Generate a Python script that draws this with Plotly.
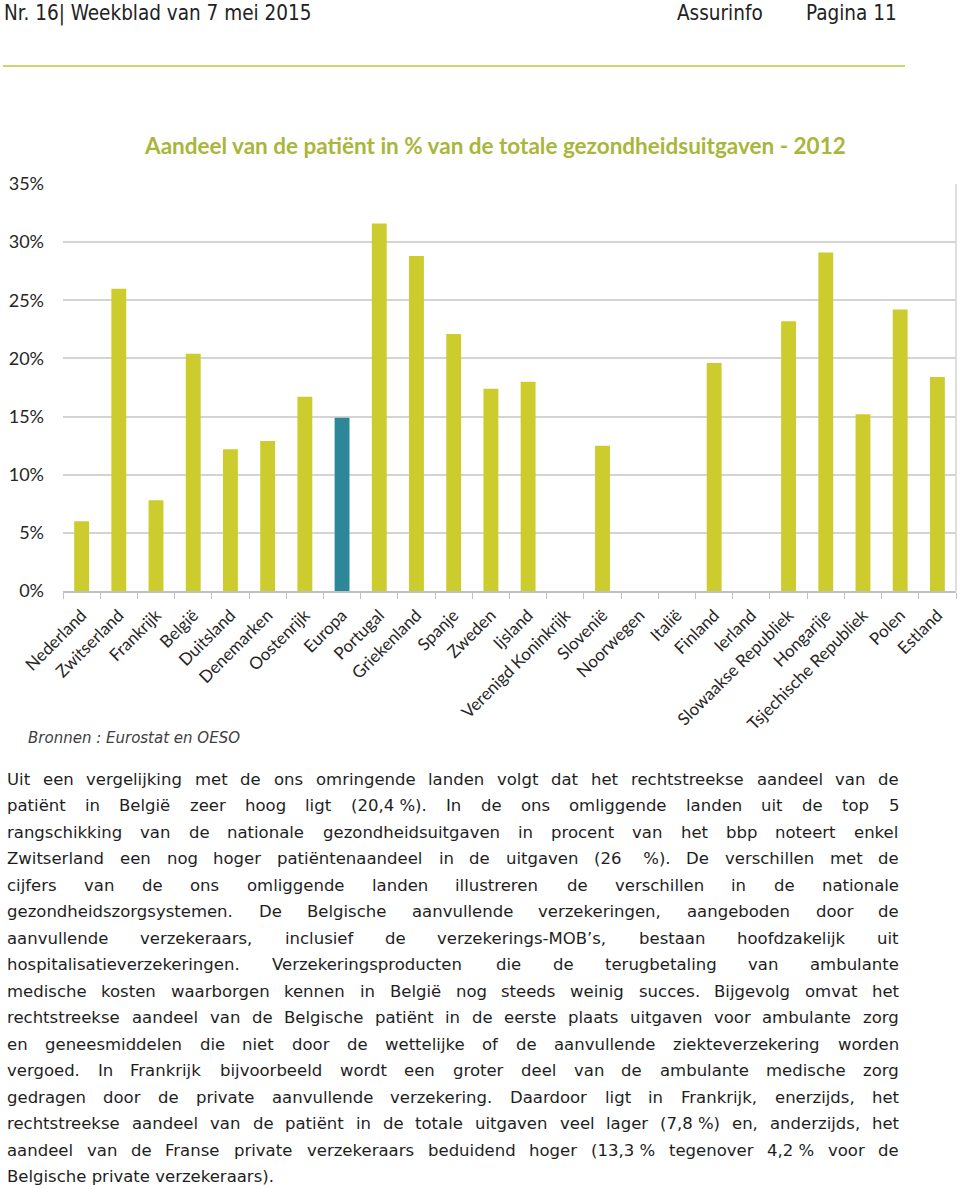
import plotly.graph_objects as go

# ---------------- data ----------------
countries = ["Nederland", "Zwitserland", "Frankrijk", "België", "Duitsland", "Denemarken",
             "Oostenrijk", "Europa", "Portugal", "Griekenland", "Spanje", "Zweden", "Ijsland",
             "Verenigd Koninkrijk", "Slovenië", "Noorwegen", "Italië", "Finland", "Ierland",
             "Slowaakse Republiek", "Hongarije", "Tsjechische Republiek", "Polen", "Estland"]
aandeel = [6.0, 26.0, 7.8, 20.4, 12.2, 12.9, 16.7, 14.9, 31.6, 28.8, 22.1, 17.4, 18.0,
           None, 12.5, None, None, 19.6, None, 23.2, 29.1, 15.2, 24.2, 18.4]
highlight = "Europa"
y_ticks = [0, 5, 10, 15, 20, 25, 30, 35]
y_tick_labels = ["0%", "5%", "10%", "15%", "20%", "25%", "30%", "35%"]

chart_title = "Aandeel van de patiënt in % van de totale gezondheidsuitgaven - 2012"
source_note = "Bronnen : Eurostat en OESO"
header_left = "Nr. 16| Weekblad van 7 mei 2015"
header_mid = "Assurinfo"
header_right = "Pagina 11"

body_lines = [
    "Uit een vergelijking met de ons omringende landen volgt dat het rechtstreekse aandeel van de",
    "patiënt in België zeer hoog ligt (20,4\u00a0%). In de ons omliggende landen uit de top 5",
    "rangschikking van de nationale gezondheidsuitgaven in procent van het bbp noteert enkel",
    "Zwitserland een nog hoger patiëntenaandeel in de uitgaven (26 \u00a0%). De verschillen met de",
    "cijfers van de ons omliggende landen illustreren de verschillen in de nationale",
    "gezondheidszorgsystemen. De Belgische aanvullende verzekeringen, aangeboden door de",
    "aanvullende verzekeraars, inclusief de verzekerings-MOB’s, bestaan hoofdzakelijk uit",
    "hospitalisatieverzekeringen. Verzekeringsproducten die de terugbetaling van ambulante",
    "medische kosten waarborgen kennen in België nog steeds weinig succes. Bijgevolg omvat het",
    "rechtstreekse aandeel van de Belgische patiënt in de eerste plaats uitgaven voor ambulante zorg",
    "en geneesmiddelen die niet door de wettelijke of de aanvullende ziekteverzekering worden",
    "vergoed. In Frankrijk bijvoorbeeld wordt een groter deel van de ambulante medische zorg",
    "gedragen door de private aanvullende verzekering. Daardoor ligt in Frankrijk, enerzijds, het",
    "rechtstreekse aandeel van de patiënt in de totale uitgaven veel lager (7,8\u00a0%) en, anderzijds, het",
    "aandeel van de Franse private verzekeraars beduidend hoger (13,3\u00a0% tegenover 4,2\u00a0% voor de",
    "Belgische private verzekeraars).",
]

# ---------------- page geometry helpers ----------------
W, H = 960, 1189


def px(x):
    return x / W


def py(y):
    return 1 - y / H


# DejaVu Sans advance widths (per em)
_w = {' ': .318, '\u00a0': .318, '!': .401, '%': .950, "'": .275, '’': .318, '(': .390, ')': .390,
      ',': .318, '-': .361, '.': .318, ':': .337, ';': .337, '/': .337,
      'A': .684, 'B': .686, 'C': .698, 'D': .770, 'E': .632, 'F': .575, 'G': .775, 'H': .752,
      'I': .295, 'J': .295, 'K': .656, 'L': .557, 'M': .863, 'N': .748, 'O': .787, 'P': .603,
      'Q': .787, 'R': .695, 'S': .635, 'T': .611, 'U': .732, 'V': .684, 'W': .989, 'X': .685,
      'Y': .611, 'Z': .685,
      'a': .613, 'b': .635, 'c': .550, 'd': .635, 'e': .615, 'f': .352, 'g': .635, 'h': .634,
      'i': .278, 'j': .278, 'k': .579, 'l': .278, 'm': .974, 'n': .634, 'o': .612, 'p': .635,
      'q': .635, 'r': .411, 's': .521, 't': .392, 'u': .634, 'v': .592, 'w': .818, 'x': .592,
      'y': .592, 'z': .525, 'ë': .615, 'é': .615}


def em_width(s):
    return sum(_w.get(c, .636) for c in s)


TEXT_L, TEXT_R = 5, 897
TEXT_W = TEXT_R - TEXT_L
LINE_Y0, LINE_DY = 779, 26.53

max_em = max(em_width(l) for l in body_lines[:-1])
body_size = min(16.5, TEXT_W / max_em * 0.985)
text_color = "#1e1e1e"

annotations = []

# justified body text
for i, line in enumerate(body_lines):
    y = LINE_Y0 + i * LINE_DY
    if i == len(body_lines) - 1:
        annotations.append(dict(x=px(TEXT_L), y=py(y), text=line, showarrow=False,
                                xanchor="left", yanchor="middle", xref="paper", yref="paper",
                                font=dict(family="DejaVu Sans", size=body_size, color=text_color)))
        continue
    words = line.split(" ")
    words = [w for w in words if w != ""]
    widths = [em_width(w) * body_size for w in words]
    gap = (TEXT_W - sum(widths)) / (len(words) - 1)
    x = TEXT_L
    for w, wd in zip(words, widths):
        annotations.append(dict(x=px(x), y=py(y), text=w, showarrow=False,
                                xanchor="left", yanchor="middle", xref="paper", yref="paper",
                                font=dict(family="DejaVu Sans", size=body_size, color=text_color)))
        x += wd + gap

# header
hdr_font = dict(family="DejaVu Sans Condensed, Liberation Sans Narrow, DejaVu Sans", size=20.5, color="#222222")
for txt, xx, anc in [(header_left, 3, "left"), (header_mid, 676, "left"), (header_right, 898, "right")]:
    annotations.append(dict(x=px(xx), y=py(13), text=txt, showarrow=False, xanchor=anc,
                            yanchor="middle", xref="paper", yref="paper", font=hdr_font,
                            borderpad=0))

# chart title and source
annotations.append(dict(x=px(495), y=py(145), text="<b>" + chart_title + "</b>", showarrow=False,
                        xanchor="center", yanchor="middle", xref="paper", yref="paper",
                        font=dict(family="Lato", size=22.5, color="#a9b63c")))
annotations.append(dict(x=px(26), y=py(738), text="<i>" + source_note + "</i>", showarrow=False,
                        xanchor="left", yanchor="middle", xref="paper", yref="paper",
                        font=dict(family="DejaVu Sans", size=15, color="#404040")))

bar_colors = ["#2e8799" if c == highlight else "#cccc2e" for c in countries]

fig = go.Figure(go.Bar(x=countries, y=aandeel, marker=dict(color=bar_colors, line=dict(width=0)),
                       hoverinfo="x+y"))

fig.update_layout(
    width=W, height=H,
    margin=dict(l=0, r=0, t=0, b=0, autoexpand=False),
    paper_bgcolor="white", plot_bgcolor="white",
    bargap=0.6,
    showlegend=False,
    annotations=annotations,
    xaxis=dict(domain=[px(63), px(956)], type="category", tickangle=-45, automargin=False,
               tickfont=dict(family="Lato", size=17, color="#262626"),
               showline=True, linecolor="#bfbfbf", linewidth=1.5,
               ticks="outside", tickson="boundaries", ticklen=6, tickcolor="#bfbfbf",
               ticklabelstandoff=6, showgrid=False, fixedrange=True),
    yaxis=dict(domain=[py(591), py(184)], range=[0, 35], tickvals=y_ticks, ticktext=y_tick_labels,
               tickfont=dict(family="Lato", size=18, color="#262626"), automargin=False,
               showgrid=True, gridcolor="#d4d4d4", gridwidth=1.5, zeroline=False,
               showline=False, ticklabelstandoff=18, fixedrange=True),
    shapes=[
        dict(type="line", xref="paper", yref="paper", x0=px(3), x1=px(905), y0=py(66), y1=py(66),
             line=dict(color="#cdd66a", width=2)),
        dict(type="line", xref="x domain", yref="y domain", x0=1, x1=1, y0=0, y1=1,
             line=dict(color="#d4d4d4", width=1.5)),
    ],
)

fig.write_html("out.html", config={"displayModeBar": False},
               post_script="document.body.style.margin='0px';document.body.style.overflow='hidden';")
